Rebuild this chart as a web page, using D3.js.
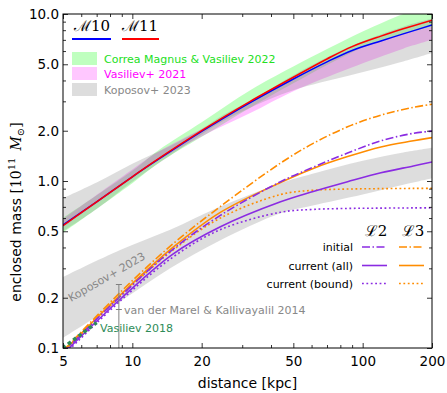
<!DOCTYPE html>
<html><head><meta charset="utf-8">
<script src="https://cdn.jsdelivr.net/npm/d3@7"></script>
<style>body{margin:0;background:#fff} svg{display:block} text{font-family:"DejaVu Sans",sans-serif}</style>
</head><body><svg id="c" width="447" height="393"></svg>
<script>
// ---------------- data ----------------
const rMW = [5, 7, 10, 13, 20, 25, 32.5, 50, 70, 90, 120, 150, 200];
const massM11 = [0.54, 0.75, 1.06, 1.36, 2.0, 2.42, 3.0, 4.18, 5.38, 6.38, 7.37, 8.15, 9.19];
const massM10 = [0.545, 0.75, 1.06, 1.35, 1.98, 2.39, 2.95, 4.08, 5.17, 6.05, 6.9, 7.6, 8.6];

const rCorrea = [5, 10, 13, 20, 32.5, 50, 100, 150, 200];
const correaLo = [0.49, 0.97, 1.28, 1.84, 2.75, 3.85, 6.3, 7.6, 8.4];
const correaHi = [0.60, 1.15, 1.53, 2.25, 3.5, 4.85, 7.85, 10.0, 11.5];

const rVas21 = [5, 10, 13, 20, 32.5, 50, 88.5, 150, 200];
const vas21Lo = [0.53, 1.04, 1.33, 1.85, 2.55, 3.45, 4.75, 6.2, 7.0];
const vas21Hi = [0.59, 1.17, 1.5, 2.05, 2.9, 4.05, 5.95, 7.6, 8.4];

const rKopMW = [5, 7, 10, 14.6, 20, 25, 32.5, 50, 88.5, 150, 200];
const kopMWLo = [0.50, 0.68, 0.99, 1.42, 1.90, 2.3, 2.75, 3.5, 4.3, 5.2, 5.84];
const kopMWHi = [0.79, 0.98, 1.27, 1.62, 2.05, 2.5, 3.0, 4.3, 6.4, 8.4, 9.4];

const rKopLMC = [5, 8.85, 14.6, 24, 44, 60, 100, 150, 200];
const kopLMCLo = [0.115, 0.19, 0.30, 0.44, 0.64, 0.71, 0.83, 0.95, 1.04];
const kopLMCHi = [0.266, 0.386, 0.51, 0.70, 0.97, 1.10, 1.32, 1.48, 1.58];

const rLMC = [5, 9, 15, 24, 44, 61, 86, 120, 166, 200];
const l2Initial = [0.094, 0.208, 0.39, 0.62, 0.99, 1.21, 1.47, 1.74, 1.93, 1.99];
const l2All = [0.092, 0.20, 0.365, 0.53, 0.75, 0.865, 0.99, 1.12, 1.23, 1.30];
const l2Bound = [0.09, 0.195, 0.35, 0.51, 0.65, 0.676, 0.685, 0.688, 0.69, 0.69];
const l3Initial = [0.096, 0.22, 0.42, 0.70, 1.28, 1.68, 2.11, 2.48, 2.76, 2.88];
const l3All = [0.095, 0.212, 0.40, 0.646, 0.98, 1.19, 1.40, 1.60, 1.74, 1.82];
const l3Bound = [0.094, 0.208, 0.385, 0.598, 0.83, 0.88, 0.895, 0.90, 0.903, 0.904];

const rVas18 = [5, 6, 7];
const mVas18 = [0.1, 0.121, 0.142];

const vdmR = [8.74];
const vdmM = [0.17];
const vdmLo = [0.08];
const vdmHi = [0.24];

const xTicks = [5, 10, 20, 50, 100, 200];
const xTickLabels = ["5", "10", "20", "50", "100", "200"];
const xMinor = [6, 7, 8, 9, 30, 40, 60, 70, 80, 90];
const yTicks = [0.1, 0.2, 0.5, 1, 2, 5, 10];
const yTickLabels = ["0.1", "0.2", "0.5", "1.0", "2.0", "5.0", "10.0"];
const yMinor = [0.3, 0.4, 0.6, 0.7, 0.8, 0.9, 3, 4, 6, 7, 8, 9];

// ---------------- chart ----------------
const L = 63, R = 432, T = 14, B = 348;
const svg = d3.select("#c");
const x = d3.scaleLog().domain([5, 200]).range([L, R]);
const y = d3.scaleLog().domain([0.1, 10]).range([B, T]);

svg.append("defs").append("clipPath").attr("id", "clip")
  .append("rect").attr("x", L).attr("y", T).attr("width", R - L).attr("height", B - T);
const g = svg.append("g").attr("clip-path", "url(#clip)");

const zip = (r, a, b) => r.map((v, i) => b ? [v, a[i], b[i]] : [v, a[i]]);
const crv = d3.curveCatmullRom.alpha(0.5);
const area = d3.area().x(d => x(d[0])).y0(d => y(d[1])).y1(d => y(d[2])).curve(crv);
const line = d3.line().x(d => x(d[0])).y(d => y(d[1])).curve(crv);

const GREEN = "#00ff00", PINK = "#ff00ff", GREY = "#808080";
g.append("path").attr("d", area(zip(rCorrea, correaLo, correaHi))).attr("fill", GREEN).attr("fill-opacity", 0.25);
g.append("path").attr("d", area(zip(rVas21, vas21Lo, vas21Hi))).attr("fill", PINK).attr("fill-opacity", 0.25);
g.append("path").attr("d", area(zip(rKopMW, kopMWLo, kopMWHi))).attr("fill", GREY).attr("fill-opacity", 0.27);
g.append("path").attr("d", area(zip(rKopLMC, kopLMCLo, kopLMCHi))).attr("fill", GREY).attr("fill-opacity", 0.27);

const PURPLE = "#8a2be2", ORANGE = "#ff8c00";
const DASHDOT = "8,2.5,1.5,2.5", DOT = "1.8,2.6";
const lmcLines = [
  [l3Initial, ORANGE, DASHDOT], [l3All, ORANGE, null], [l3Bound, ORANGE, DOT],
  [l2Initial, PURPLE, DASHDOT], [l2All, PURPLE, null], [l2Bound, PURPLE, DOT]
];
lmcLines.forEach(([m, c, d]) => {
  g.append("path").attr("d", line(zip(rLMC, m))).attr("fill", "none")
    .attr("stroke", c).attr("stroke-width", 1.6).attr("stroke-dasharray", d);
});

g.append("path").attr("d", line(zip(rVas18, mVas18))).attr("fill", "none")
  .attr("stroke", "#2e8b57").attr("stroke-width", 3.5).attr("stroke-dasharray", "3.5,3");

g.append("path").attr("d", line(zip(rMW, massM10))).attr("fill", "none").attr("stroke", "#0000ff").attr("stroke-width", 1.5);
g.append("path").attr("d", line(zip(rMW, massM11))).attr("fill", "none").attr("stroke", "#ff0000").attr("stroke-width", 1.5);

// errorbar vdM
vdmR.forEach((r, i) => {
  const eb = g.append("g").attr("stroke", GREY).attr("stroke-width", 1);
  eb.append("line").attr("x1", x(r)).attr("x2", x(r)).attr("y1", y(vdmLo[i])).attr("y2", y(vdmHi[i]));
  eb.append("line").attr("x1", x(r) - 3).attr("x2", x(r) + 3).attr("y1", y(vdmHi[i])).attr("y2", y(vdmHi[i]));
  eb.append("line").attr("x1", x(r) - 3).attr("x2", x(r) + 3).attr("y1", y(vdmM[i])).attr("y2", y(vdmM[i]));
});

// ---------------- axes ----------------
const fs = "13.5px";
const ax = (gen, tr) => svg.append("g").attr("transform", tr).call(gen)
  .call(s => s.select(".domain").remove())
  .call(s => s.selectAll("text").style("font-size", fs).style("font-family", "DejaVu Sans"));
ax(d3.axisBottom(x).tickValues(xTicks).tickFormat((d, i) => xTickLabels[i]).tickSizeInner(-5).tickSizeOuter(0).tickPadding(8), `translate(0,${B})`);
ax(d3.axisBottom(x).tickValues(xMinor).tickFormat("").tickSizeInner(-3).tickSizeOuter(0), `translate(0,${B})`);
ax(d3.axisTop(x).tickValues(xTicks).tickFormat("").tickSizeInner(-5).tickSizeOuter(0), `translate(0,${T})`);
ax(d3.axisTop(x).tickValues(xMinor).tickFormat("").tickSizeInner(-3).tickSizeOuter(0), `translate(0,${T})`);
ax(d3.axisLeft(y).tickValues(yTicks).tickFormat((d, i) => yTickLabels[i]).tickSizeInner(-5).tickSizeOuter(0).tickPadding(4), `translate(${L},0)`);
ax(d3.axisLeft(y).tickValues(yMinor).tickFormat("").tickSizeInner(-3).tickSizeOuter(0), `translate(${L},0)`);
ax(d3.axisRight(y).tickValues(yTicks).tickFormat("").tickSizeInner(-5).tickSizeOuter(0), `translate(${R},0)`);
ax(d3.axisRight(y).tickValues(yMinor).tickFormat("").tickSizeInner(-3).tickSizeOuter(0), `translate(${R},0)`);
svg.selectAll(".tick line").attr("stroke", "#000").attr("stroke-width", 0.8);
svg.append("rect").attr("x", L).attr("y", T).attr("width", R - L).attr("height", B - T)
  .attr("fill", "none").attr("stroke", "#000").attr("stroke-width", 1);

svg.append("text").attr("x", (L + R) / 2).attr("y", 388).attr("text-anchor", "middle")
  .style("font-size", "14px").text("distance [kpc]");

const yl = svg.append("text").attr("transform", "translate(21,212) rotate(-90)").attr("text-anchor", "middle")
  .style("font-size", "14px");
yl.append("tspan").text("enclosed mass [");
yl.append("tspan").style("font-family", "DejaVu Serif").text("10");
yl.append("tspan").style("font-family", "DejaVu Serif").style("font-size", "10px").attr("dy", -6).text("11");
yl.append("tspan").style("font-family", "DejaVu Serif").style("font-style", "italic").attr("dy", 6).text("\u2002M");
yl.append("tspan").style("font-family", "DejaVu Serif").style("font-size", "10px").attr("dy", 3).text("\u2299");
yl.append("tspan").style("font-family", "DejaVu Serif").attr("dy", -3).text("]");

// ---------------- legends ----------------
const serif = "DejaVu Serif";
svg.append("text").attr("x", 92).attr("y", 31).attr("text-anchor", "middle").style("font-family", serif).style("font-size", "15px").text("\u213310");
svg.append("text").attr("x", 140).attr("y", 31).attr("text-anchor", "middle").style("font-family", serif).style("font-size", "15px").text("\u213311");
svg.append("line").attr("x1", 72).attr("x2", 111).attr("y1", 39).attr("y2", 39).attr("stroke", "#0000ff").attr("stroke-width", 1.8);
svg.append("line").attr("x1", 122).attr("x2", 159).attr("y1", 39).attr("y2", 39).attr("stroke", "#ff0000").attr("stroke-width", 1.8);

const bandLegend = [
  ["Correa Magnus & Vasiliev 2022", GREEN, 0.25, "#22e022", 52],
  ["Vasiliev+ 2021", PINK, 0.22, "#ff00ff", 67],
  ["Koposov+ 2023", GREY, 0.27, "#888888", 83]
];
bandLegend.forEach(([t, c, o, tc, yy]) => {
  svg.append("rect").attr("x", 72).attr("y", yy).attr("width", 25).attr("height", 13).attr("fill", c).attr("fill-opacity", o);
  svg.append("text").attr("x", 104).attr("y", yy + 10.5).style("font-size", "11px").attr("fill", tc).text(t);
});

svg.append("text").attr("x", 376).attr("y", 236).attr("text-anchor", "middle").style("font-family", serif).style("font-size", "15px").text("\u21122");
svg.append("text").attr("x", 413).attr("y", 236).attr("text-anchor", "middle").style("font-family", serif).style("font-size", "15px").text("\u21123");
const rows = [["initial", DASHDOT, 247], ["current (all)", null, 265.5], ["current (bound)", DOT, 283.5]];
rows.forEach(([t, d, yy]) => {
  svg.append("text").attr("x", 353).attr("y", yy + 4).attr("text-anchor", "end").style("font-size", "11px").text(t);
  svg.append("line").attr("x1", 362).attr("x2", 387).attr("y1", yy).attr("y2", yy).attr("stroke", PURPLE).attr("stroke-width", 1.6).attr("stroke-dasharray", d);
  svg.append("line").attr("x1", 399).attr("x2", 424).attr("y1", yy).attr("y2", yy).attr("stroke", ORANGE).attr("stroke-width", 1.6).attr("stroke-dasharray", d);
});

// annotations
svg.append("text").attr("transform", "translate(71,302) rotate(-30)").style("font-size", "11px").attr("fill", "#888888").text("Koposov+ 2023");
svg.append("text").attr("x", 124).attr("y", 314).style("font-size", "11px").attr("fill", "#888888").text("van der Marel & Kallivayalil 2014");
svg.append("text").attr("x", 100).attr("y", 332).style("font-size", "11px").attr("fill", "#2e8b57").text("Vasiliev 2018");
</script></body></html>
